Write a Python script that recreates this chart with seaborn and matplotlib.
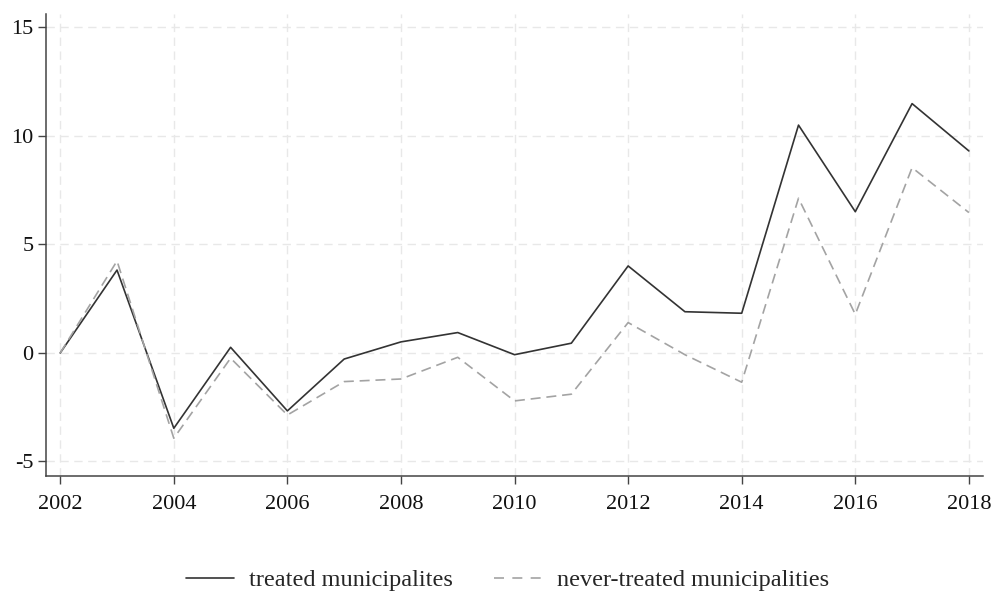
import numpy as np
import pandas as pd
import matplotlib
matplotlib.use("Agg")
import matplotlib.pyplot as plt
import seaborn as sns

# Yearly values for the two groups of municipalities
years = list(range(2002, 2019))
treated = [0.0, 3.82, -3.47, 0.26, -2.67, -0.28, 0.51, 0.94, -0.08, 0.45,
           4.01, 1.90, 1.83, 10.50, 6.51, 11.49, 9.31]
never_treated = [0.0, 4.24, -3.93, -0.24, -2.86, -1.32, -1.20, -0.20, -2.21, -1.90,
                 1.40, -0.08, -1.35, 7.13, 1.78, 8.54, 6.47]
group_labels = ["treated municipalites", "never-treated municipalities"]
x_ticks = list(range(2002, 2019, 2))
y_ticks = [-5, 0, 5, 10, 15]

df = pd.DataFrame({
    "year": years * 2,
    "value": treated + never_treated,
    "group": [group_labels[0]] * len(years) + [group_labels[1]] * len(years),
})

sns.set_theme(style="white")
plt.rcParams["font.family"] = ["Liberation Serif", "DejaVu Serif"]
plt.rcParams["axes.unicode_minus"] = False

fig = plt.figure(figsize=(9.92, 5.91), dpi=100)
ax = fig.add_axes([0.0464, 0.1946, 0.9446, 0.7817])

sns.lineplot(
    data=df, x="year", y="value", hue="group", style="group",
    palette={group_labels[0]: "#333333", group_labels[1]: "#a3a3a3"},
    dashes={group_labels[0]: "", group_labels[1]: (6, 3.5)},
    linewidth=1.2, ax=ax, legend=False,
)

ax.set_xlim(2001.75, 2018.25)
ax.set_ylim(-5.67, 15.62)
ax.set_xticks(x_ticks)
ax.set_yticks(y_ticks)
ax.set_xlabel("")
ax.set_ylabel("")

ax.grid(True, color="#e8e8e8", linestyle=(0, (6, 4)), linewidth=1.0)
ax.set_axisbelow(True)

for side in ["top", "right"]:
    ax.spines[side].set_visible(False)
for side in ["left", "bottom"]:
    ax.spines[side].set_color("#444444")
    ax.spines[side].set_linewidth(1.1)

ax.tick_params(axis="both", which="major", direction="out", length=5.5,
               width=1.0, color="#444444", labelsize=16, labelcolor="#111111",
               left=True, bottom=True)
ax.tick_params(axis="x", pad=8)
ax.tick_params(axis="y", pad=3.5)

handles = [
    plt.Line2D([], [], color="#333333", linewidth=1.2),
    plt.Line2D([], [], color="#a3a3a3", linewidth=1.2, dashes=(6, 5)),
]
fig.legend(handles, group_labels, loc="center", bbox_to_anchor=(0.5116, 0.018),
           ncol=2, frameon=False, fontsize=17.5, handlelength=2.0,
           columnspacing=1.7, handletextpad=0.6, bbox_transform=fig.transFigure)

fig.savefig("out.png", dpi=100, facecolor="white")
